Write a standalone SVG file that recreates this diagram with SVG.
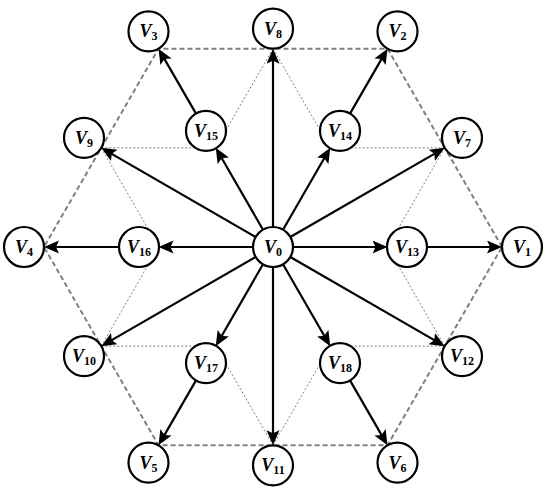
<svg xmlns="http://www.w3.org/2000/svg" width="550" height="491" viewBox="0 0 550 491">
<style>
.hex{fill:none;stroke:#7f7f7f;stroke-width:2;stroke-dasharray:5 3}
.dot{fill:none;stroke:#7f7f7f;stroke-width:1;stroke-dasharray:2 2}
.arr{fill:none;stroke:#000;stroke-width:2.2;marker-end:url(#ah)}
.node circle{fill:#fff;stroke:#000;stroke-width:2.2}
.node text{font-family:"Liberation Serif","Times New Roman",serif;font-weight:bold;font-size:18px;text-anchor:middle;fill:#000}
.v{font-style:italic}
.s{font-size:12px}
</style>
<defs>
<marker id="ah" markerUnits="userSpaceOnUse" markerWidth="16" markerHeight="14" refX="9" refY="6.5" orient="auto">
<path d="M0,0 L15,6.5 L0,13 L3,6.5 z" fill="#000"/>
</marker>
</defs>
<rect width="550" height="491" fill="#fff"/>
<g id="guides">
<polygon class="hex" points="502,247 387.5,48.7 158.5,48.7 44,247 158.5,445.3 387.5,445.3"/>
<path class="dot" d="M273,48.7 L330.25,147.85 M273,48.7 L215.75,147.85 M101.3,147.85 L215.75,147.85 M101.3,147.85 L158.5,247 M101.3,346.15 L158.5,247 M101.3,346.15 L215.75,346.15 M273,445.3 L215.75,346.15 M273,445.3 L330.25,346.15 M444.7,346.15 L330.25,346.15 M444.7,346.15 L387.5,247 M444.7,147.85 L387.5,247 M444.7,147.85 L330.25,147.85"/>
</g>
<g id="connectors">
<line class="arr" x1="293" y1="247" x2="381.5" y2="247"/>
<line class="arr" x1="290.3" y1="237" x2="439.5" y2="150.85"/>
<line class="arr" x1="283" y1="229.7" x2="327.25" y2="153"/>
<line class="arr" x1="273" y1="227" x2="273" y2="54.7"/>
<line class="arr" x1="263" y1="229.7" x2="218.75" y2="153"/>
<line class="arr" x1="255.7" y1="237" x2="106.5" y2="150.85"/>
<line class="arr" x1="253" y1="247" x2="164.5" y2="247"/>
<line class="arr" x1="255.7" y1="257" x2="106.5" y2="343.15"/>
<line class="arr" x1="263" y1="264.3" x2="218.75" y2="341"/>
<line class="arr" x1="273" y1="267" x2="273" y2="439.3"/>
<line class="arr" x1="283" y1="264.3" x2="327.25" y2="341"/>
<line class="arr" x1="290.3" y1="257" x2="439.5" y2="343.15"/>
<line class="arr" x1="427" y1="247" x2="496" y2="247"/>
<line class="arr" x1="350" y1="113.6" x2="384.5" y2="53.9"/>
<line class="arr" x1="196" y1="113.6" x2="161.5" y2="53.9"/>
<line class="arr" x1="119" y1="247" x2="50" y2="247"/>
<line class="arr" x1="196" y1="380.4" x2="161.5" y2="440.1"/>
<line class="arr" x1="350" y1="380.4" x2="384.5" y2="440.1"/>
</g>
<g id="V0" class="node"><circle cx="273" cy="247" r="20"/><text x="273" y="253"><tspan class="v">V</tspan><tspan class="s" dy="3">0</tspan></text></g>
<g id="V1" class="node"><circle cx="522" cy="247" r="20"/><text x="522" y="253"><tspan class="v">V</tspan><tspan class="s" dy="3">1</tspan></text></g>
<g id="V2" class="node"><circle cx="397.5" cy="31.4" r="20"/><text x="397.5" y="37.4"><tspan class="v">V</tspan><tspan class="s" dy="3">2</tspan></text></g>
<g id="V3" class="node"><circle cx="148.5" cy="31.4" r="20"/><text x="148.5" y="37.4"><tspan class="v">V</tspan><tspan class="s" dy="3">3</tspan></text></g>
<g id="V4" class="node"><circle cx="24" cy="247" r="20"/><text x="24" y="253"><tspan class="v">V</tspan><tspan class="s" dy="3">4</tspan></text></g>
<g id="V5" class="node"><circle cx="148.5" cy="462.6" r="20"/><text x="148.5" y="468.6"><tspan class="v">V</tspan><tspan class="s" dy="3">5</tspan></text></g>
<g id="V6" class="node"><circle cx="397.5" cy="462.6" r="20"/><text x="397.5" y="468.6"><tspan class="v">V</tspan><tspan class="s" dy="3">6</tspan></text></g>
<g id="V7" class="node"><circle cx="462" cy="137.85" r="20"/><text x="462" y="143.85"><tspan class="v">V</tspan><tspan class="s" dy="3">7</tspan></text></g>
<g id="V8" class="node"><circle cx="273" cy="28.7" r="20"/><text x="273" y="34.7"><tspan class="v">V</tspan><tspan class="s" dy="3">8</tspan></text></g>
<g id="V9" class="node"><circle cx="84" cy="137.85" r="20"/><text x="84" y="143.85"><tspan class="v">V</tspan><tspan class="s" dy="3">9</tspan></text></g>
<g id="V10" class="node"><circle cx="84" cy="356.15" r="20"/><text x="84" y="362.15"><tspan class="v">V</tspan><tspan class="s" dy="3">10</tspan></text></g>
<g id="V11" class="node"><circle cx="273" cy="465.3" r="20"/><text x="273" y="471.3"><tspan class="v">V</tspan><tspan class="s" dy="3">11</tspan></text></g>
<g id="V12" class="node"><circle cx="462" cy="356.15" r="20"/><text x="462" y="362.15"><tspan class="v">V</tspan><tspan class="s" dy="3">12</tspan></text></g>
<g id="V13" class="node"><circle cx="407" cy="247" r="20"/><text x="407" y="253"><tspan class="v">V</tspan><tspan class="s" dy="3">13</tspan></text></g>
<g id="V14" class="node"><circle cx="340" cy="130.95" r="20"/><text x="340" y="136.95"><tspan class="v">V</tspan><tspan class="s" dy="3">14</tspan></text></g>
<g id="V15" class="node"><circle cx="206" cy="130.95" r="20"/><text x="206" y="136.95"><tspan class="v">V</tspan><tspan class="s" dy="3">15</tspan></text></g>
<g id="V16" class="node"><circle cx="139" cy="247" r="20"/><text x="139" y="253"><tspan class="v">V</tspan><tspan class="s" dy="3">16</tspan></text></g>
<g id="V17" class="node"><circle cx="206" cy="363.05" r="20"/><text x="206" y="369.05"><tspan class="v">V</tspan><tspan class="s" dy="3">17</tspan></text></g>
<g id="V18" class="node"><circle cx="340" cy="363.05" r="20"/><text x="340" y="369.05"><tspan class="v">V</tspan><tspan class="s" dy="3">18</tspan></text></g>
</svg>
